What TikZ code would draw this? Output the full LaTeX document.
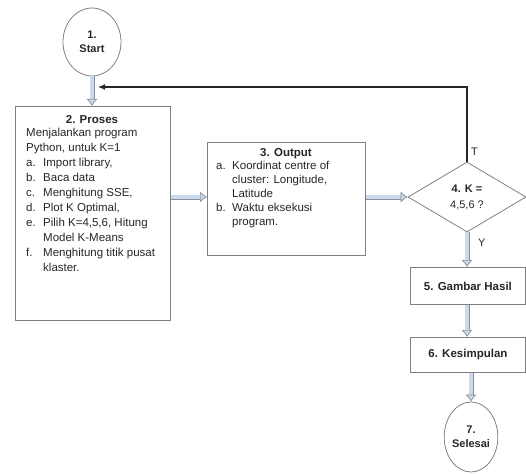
\documentclass[tikz,border=0pt]{standalone}
\usepackage{fontspec}
\setmainfont{Liberation Sans}
\usetikzlibrary{shapes.geometric,arrows.meta}
\definecolor{bord}{HTML}{808080}
\definecolor{afill}{HTML}{C9DAEE}
\definecolor{agray}{HTML}{8A8F96}
\definecolor{tcol}{HTML}{262626}
\newcommand\itemlab[2][17pt]{\makebox[#1][l]{#2}}
\begin{document}
\begin{tikzpicture}[x=1pt,y=-1pt,
  box/.style={draw=bord, line width=0.8pt, rectangle, inner sep=0pt},
  term/.style={draw=bord, line width=0.8pt, ellipse, inner sep=0pt, align=center,
    text=tcol, font=\bfseries\fontsize{11}{14}\selectfont},
  hd/.style={inner sep=0pt, text=tcol, font=\bfseries\fontsize{11.5}{14}\selectfont},
  bd/.style={inner sep=0pt, align=left, text=tcol, font=\fontsize{11.5}{15}\selectfont},
  flowarr/.style={draw=agray, line width=0.7pt, double=afill, double distance=3.6pt,
    -{Latex[open, fill=afill, length=7pt, width=11pt, line width=0.7pt]}},
  fb/.style={draw=black!85, line width=1.2pt, -{Latex[length=7pt, width=6pt]}},
  lbl/.style={inner sep=0pt, text=tcol, font=\fontsize{11}{13}\selectfont}
]
\useasboundingbox (0,0) rectangle (526,473);

% nodes
\node[term, minimum width=58pt, minimum height=68pt] (s) at (92,42) {1.\\Start};
\node[box, minimum width=155pt, minimum height=214pt, anchor=north west] (p2) at (15,106) {};
\node[box, minimum width=158pt, minimum height=113pt, anchor=north west] (p3) at (207,142) {};
\node[draw=bord, line width=0.8pt, diamond, aspect=1.69, minimum width=118pt, minimum height=70pt,
      inner sep=0pt, align=center, text=tcol, font=\fontsize{11}{16}\selectfont] (d) at (467,197)
      {\textbf{4. K =}\\4,5,6 ?};
\node[box, minimum width=115pt, minimum height=37pt, anchor=north west, hd] (p5) at (410,267) {5. Gambar Hasil};
\node[box, minimum width=115pt, minimum height=35pt, anchor=north west, hd] (p6) at (410,337) {6. Kesimpulan};
\node[term, minimum width=53pt, minimum height=70pt] (e) at (471,437) {7.\\Selesai};

% texts of box 2
\node[hd] (p2h) at (92,120) {2. Proses};
\node[bd, anchor=north west] (p2b) at (26,128) {Menjalankan program\\
Python, untuk K=1\\
\itemlab{a.}Import library,\\
\itemlab{b.}Baca data\\
\itemlab{c.}Menghitung SSE,\\
\itemlab{d.}Plot K Optimal,\\
\itemlab{e.}Pilih K=4,5,6, Hitung\\
\itemlab{}Model K-Means\\
\itemlab{f.}Menghitung titik pusat\\
\itemlab{}klaster.};

% texts of box 3
\node[hd] (p3h) at (286,154) {3. Output};
\node[bd, anchor=north west, font=\fontsize{11.5}{14}\selectfont] (p3b) at (216,161) {\itemlab[16pt]{a.}Koordinat centre of\\
\itemlab[16pt]{}cluster: Longitude,\\
\itemlab[16pt]{}Latitude\\
\itemlab[16pt]{b.}Waktu eksekusi\\
\itemlab[16pt]{}program.};

% connectors
\draw[flowarr] (s.south) -- (p2.north -| s.south);
\draw[flowarr] (p2.east |- d.west) -- (p3.west |- d.west);
\draw[flowarr] (p3.east |- d.west) -- (d.west);
\draw[flowarr] (d.south) -- (p5.north -| d.south);
\draw[flowarr] (p5.south -| d.south) -- (p6.north -| d.south);
\draw[flowarr] (p6.south -| e.north) -- (e.north);

\coordinate (fbend) at (98,87);
\draw[fb] (d.north) |- (fbend);

\node[lbl, anchor=west] (tl) at (471,152) {T};
\node[lbl, anchor=west] (yl) at (478,243) {Y};
\end{tikzpicture}
\end{document}
